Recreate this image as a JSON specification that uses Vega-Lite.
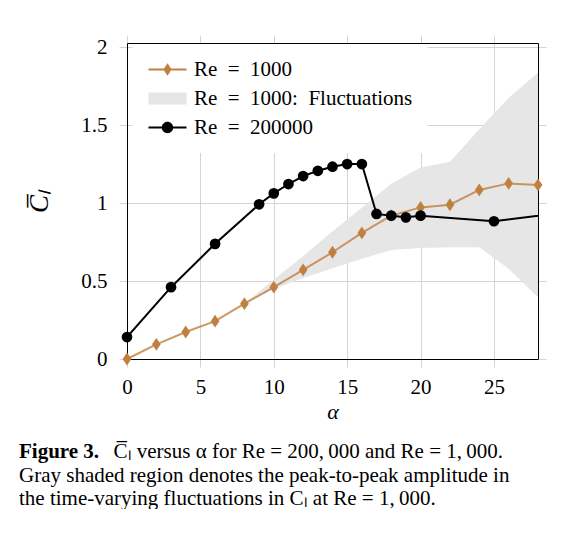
{
  "$schema": "https://vega.github.io/schema/vega-lite/v6.json",
  "width": 411,
  "height": 316,
  "autosize": {"type": "pad"},
  "padding": {"left": 19, "top": 34, "right": 0, "bottom": 0},
  "config": {
    "view": {"stroke": null},
    "font": "Liberation Serif",
    "axis": {
      "labelFont": "Liberation Serif",
      "labelFontSize": 21,
      "labelColor": "black",
      "titleFont": "Liberation Serif",
      "titleColor": "black",
      "titleFontWeight": "normal",
      "gridColor": "#d4d4d4",
      "gridWidth": 1,
      "tickColor": "#d4d4d4",
      "tickSize": 8,
      "tickWidth": 1,
      "domain": true,
      "domainColor": "black",
      "domainWidth": 1,
      "labelFlush": false,
      "labelOverlap": false
    }
  },
  "title": {
    "text": "Figure 3.",
    "subtitle": [
      "\u200b\u2003\u2003\u2003\u2003\u2002C\u0305\u2097 versus α for Re = 200,\u2009000 and Re = 1,\u2009000.",
      "Gray shaded region denotes the peak-to-peak amplitude in",
      "the time-varying fluctuations in C\u2097 at Re = 1,\u2009000."
    ],
    "orient": "bottom",
    "anchor": "start",
    "frame": "group",
    "dx": -108,
    "offset": 19,
    "baseline": "top",
    "font": "Liberation Serif",
    "fontSize": 21,
    "fontWeight": "bold",
    "color": "black",
    "subtitleFont": "Liberation Serif",
    "subtitleFontSize": 21,
    "subtitleFontWeight": "normal",
    "subtitleColor": "black",
    "subtitlePadding": -21,
    "subtitleLineHeight": 23.5
  },
  "datasets": {
    "lines": [
      {"series": "Re = 1000", "x": 0, "y": 0},
      {"series": "Re = 1000", "x": 2, "y": 0.094},
      {"series": "Re = 1000", "x": 4, "y": 0.173},
      {"series": "Re = 1000", "x": 6, "y": 0.243},
      {"series": "Re = 1000", "x": 8, "y": 0.355},
      {"series": "Re = 1000", "x": 10, "y": 0.461},
      {"series": "Re = 1000", "x": 12, "y": 0.572},
      {"series": "Re = 1000", "x": 14, "y": 0.685},
      {"series": "Re = 1000", "x": 16, "y": 0.809},
      {"series": "Re = 1000", "x": 18, "y": 0.92},
      {"series": "Re = 1000", "x": 20, "y": 0.973},
      {"series": "Re = 1000", "x": 22, "y": 0.99},
      {"series": "Re = 1000", "x": 24, "y": 1.085},
      {"series": "Re = 1000", "x": 26, "y": 1.127},
      {"series": "Re = 1000", "x": 28, "y": 1.117},
      {"series": "Re = 200000", "x": 0, "y": 0.141},
      {"series": "Re = 200000", "x": 3, "y": 0.461},
      {"series": "Re = 200000", "x": 6, "y": 0.739},
      {"series": "Re = 200000", "x": 9, "y": 0.993},
      {"series": "Re = 200000", "x": 10, "y": 1.063},
      {"series": "Re = 200000", "x": 11, "y": 1.123},
      {"series": "Re = 200000", "x": 12, "y": 1.174},
      {"series": "Re = 200000", "x": 13, "y": 1.208},
      {"series": "Re = 200000", "x": 14, "y": 1.234},
      {"series": "Re = 200000", "x": 15, "y": 1.251},
      {"series": "Re = 200000", "x": 16, "y": 1.251},
      {"series": "Re = 200000", "x": 17, "y": 0.931},
      {"series": "Re = 200000", "x": 18, "y": 0.92},
      {"series": "Re = 200000", "x": 19, "y": 0.909},
      {"series": "Re = 200000", "x": 20, "y": 0.92},
      {"series": "Re = 200000", "x": 25, "y": 0.884},
      {"series": "Re = 200000", "x": 30, "y": 0.944}
    ],
    "band": [
      {"series": "Re = 1000: Fluctuations", "x": 8, "lo": 0.355, "hi": 0.355},
      {"series": "Re = 1000: Fluctuations", "x": 10, "lo": 0.45, "hi": 0.51},
      {"series": "Re = 1000: Fluctuations", "x": 12, "lo": 0.52, "hi": 0.66},
      {"series": "Re = 1000: Fluctuations", "x": 14, "lo": 0.583, "hi": 0.82},
      {"series": "Re = 1000: Fluctuations", "x": 16, "lo": 0.643, "hi": 0.97},
      {"series": "Re = 1000: Fluctuations", "x": 18, "lo": 0.70, "hi": 1.125},
      {"series": "Re = 1000: Fluctuations", "x": 20, "lo": 0.713, "hi": 1.229},
      {"series": "Re = 1000: Fluctuations", "x": 22, "lo": 0.717, "hi": 1.266},
      {"series": "Re = 1000: Fluctuations", "x": 24, "lo": 0.717, "hi": 1.475},
      {"series": "Re = 1000: Fluctuations", "x": 26, "lo": 0.579, "hi": 1.677},
      {"series": "Re = 1000: Fluctuations", "x": 28, "lo": 0.397, "hi": 1.837}
    ]
  },
  "layer": [
    {
      "data": {"name": "band"},
      "mark": {"type": "area", "opacity": 1},
      "encoding": {
        "x": {
          "field": "x", "type": "quantitative",
          "scale": {"domain": [0, 28], "nice": false, "zero": false},
          "axis": {"orient": "bottom", "values": [0, 5, 10, 15, 20, 25], "grid": true, "title": "α", "titleFontStyle": "italic", "titleFontSize": 22, "titlePadding": 4, "labelPadding": 9}
        },
        "y": {
          "field": "lo", "type": "quantitative",
          "scale": {"domain": [0, 2.028], "nice": false},
          "axis": {"orient": "left", "values": [0, 0.5, 1, 1.5, 2], "format": "~g", "grid": true, "title": "C\u0305\u2097", "titleFontStyle": "italic", "titleFontSize": 27, "titlePadding": 27, "labelPadding": 12}
        },
        "y2": {"field": "hi"},
        "color": {
          "field": "series", "type": "nominal",
          "scale": {"domain": ["Re = 1000", "Re = 1000: Fluctuations", "Re = 200000"], "range": ["#BF8040", "#E6E6E6", "#000000"]},
          "legend": {
            "orient": "none",
            "legendX": 5.5,
            "legendY": 1,
            "title": null,
            "padding": 15,
            "fillColor": "white",
            "labelFont": "Liberation Serif",
            "labelFontSize": 21,
            "labelColor": "black",
            "labelLimit": 500,
            "labelOffset": 25.4,
            "rowPadding": 7,
            "symbolSize": 361,
            "symbolStrokeWidth": 0,
            "symbolOpacity": 1,
            "labelExpr": "replace(replace(datum.label, ' = ', '\u2002=\u2002'), ': ', ':\u2002')"
          }
        }
      }
    },
    {
      "data": {"name": "band"},
      "transform": [{"filter": "false"}],
      "mark": {"type": "point", "filled": true, "opacity": 1, "strokeWidth": 0},
      "encoding": {
        "x": {"field": "x", "type": "quantitative", "scale": {"domain": [0, 28], "nice": false, "zero": false}, "axis": null},
        "y": {"field": "lo", "type": "quantitative", "scale": {"domain": [0, 2.028], "nice": false}, "axis": null},
        "color": {"field": "series", "type": "nominal"},
        "shape": {
          "field": "series", "type": "nominal",
          "scale": {
            "domain": ["Re = 1000", "Re = 1000: Fluctuations", "Re = 200000"],
            "range": [
              "M-1,-0.1L3,-0.1L3,0.1L-1,0.1ZM1,-0.65L1.44,0L1,0.65L0.56,0Z",
              "M-1,-0.63L3,-0.63L3,0.63L-1,0.63Z",
              "M-1,-0.1L3,-0.1L3,0.1L-1,0.1ZM1.6,0A0.6,0.6,0,1,1,0.4,0A0.6,0.6,0,1,1,1.6,0Z"
            ]
          }
        }
      }
    },
    {
      "data": {"name": "lines"},
      "transform": [{"filter": "datum.series === 'Re = 1000'"}],
      "mark": {"type": "line", "strokeWidth": 2, "strokeOpacity": 0.8, "color": "#BF8040"},
      "encoding": {
        "x": {"field": "x", "type": "quantitative", "scale": {"domain": [0, 28], "nice": false, "zero": false}, "axis": null},
        "y": {"field": "y", "type": "quantitative", "scale": {"domain": [0, 2.028], "nice": false}, "axis": null}
      }
    },
    {
      "data": {"name": "lines"},
      "transform": [{"filter": "datum.series === 'Re = 1000'"}],
      "mark": {"type": "point", "filled": true, "shape": "M0,-1L0.68,0L0,1L-0.68,0Z", "size": 165, "opacity": 1, "color": "#BF8040"},
      "encoding": {
        "x": {"field": "x", "type": "quantitative", "scale": {"domain": [0, 28], "nice": false, "zero": false}, "axis": null},
        "y": {"field": "y", "type": "quantitative", "scale": {"domain": [0, 2.028], "nice": false}, "axis": null}
      }
    },
    {
      "data": {"name": "lines"},
      "transform": [{"filter": "datum.series === 'Re = 200000'"}],
      "mark": {"type": "line", "strokeWidth": 2, "clip": true, "color": "#000000"},
      "encoding": {
        "x": {"field": "x", "type": "quantitative", "scale": {"domain": [0, 28], "nice": false, "zero": false},
          "axis": {"orient": "top", "values": [0, 5, 10, 15, 20, 25], "labels": false, "grid": false, "title": null}},
        "y": {"field": "y", "type": "quantitative", "scale": {"domain": [0, 2.028], "nice": false},
          "axis": {"orient": "right", "values": [0, 0.5, 1, 1.5, 2], "labels": false, "grid": false, "title": null}}
      }
    },
    {
      "data": {"name": "lines"},
      "transform": [{"filter": "datum.series === 'Re = 200000' && datum.x <= 28"}],
      "mark": {"type": "point", "filled": true, "shape": "circle", "size": 115, "opacity": 1, "color": "#000000"},
      "encoding": {
        "x": {"field": "x", "type": "quantitative", "scale": {"domain": [0, 28], "nice": false, "zero": false}, "axis": null},
        "y": {"field": "y", "type": "quantitative", "scale": {"domain": [0, 2.028], "nice": false}, "axis": null}
      }
    }
  ],
  "resolve": {"axis": {"x": "independent", "y": "independent"}}
}
